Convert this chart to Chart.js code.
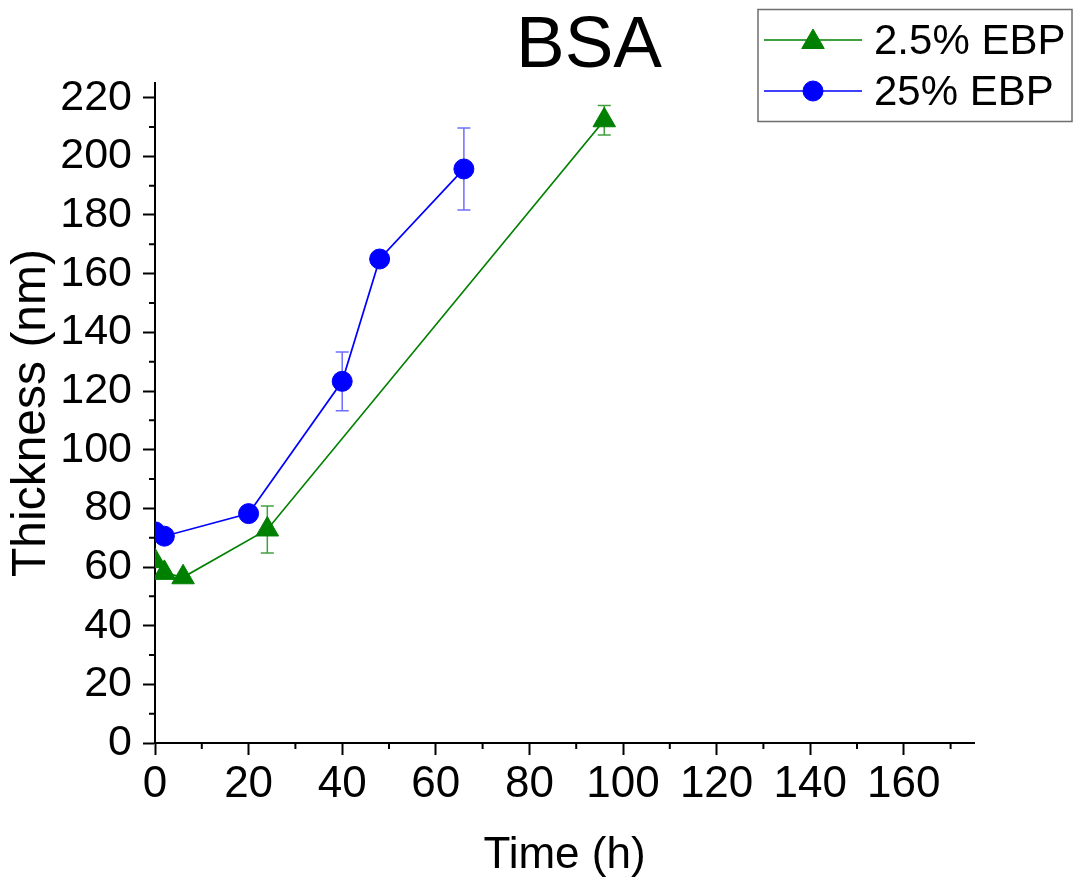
<!DOCTYPE html>
<html><head><meta charset="utf-8">
<script src="https://cdn.jsdelivr.net/npm/chart.js@4.4.1/dist/chart.umd.min.js"></script>
<style>html,body{margin:0;padding:0;background:#fff;overflow:hidden}</style>
</head><body>
<canvas id="c" width="1075" height="877"></canvas>
<script>
const chartTitle = 'BSA';
const xAxisTitle = 'Time (h)';
const yAxisTitle = 'Thickness (nm)';
const seriesLabels = ['2.5% EBP', '25% EBP'];
const timeGreen = [0, 2, 6, 24, 96];
const thickGreen = [62, 58, 56.5, 72.8, 212.3];
const errGreen = [0, 0, 0, 8, 5];
const timeBlue = [0, 2, 20, 40, 48, 66];
const thickBlue = [72, 70.5, 78.2, 123.3, 165, 195.7];
const errBlue = [0, 0, 0, 10, 0, 14];
const xTickValues = [0, 20, 40, 60, 80, 100, 120, 140, 160];
const yTickValues = [0, 20, 40, 60, 80, 100, 120, 140, 160, 180, 200, 220];
const xMinorTicks = [10, 30, 50, 70, 90, 110, 130, 150, 170];
const yMinorTicks = [10, 30, 50, 70, 90, 110, 130, 150, 170, 190, 210];

const FONT = "'Liberation Sans', Arial, sans-serif";
const GREEN = 'rgb(0,128,0)';
const BLUE = 'rgb(0,0,255)';

const toPoints = (xs, ys) => xs.map((x, i) => ({x: x, y: ys[i]}));

const errorBarPlugin = {
  id: 'errorBars',
  beforeDatasetsDraw(chart) {
    const ctx = chart.ctx, xs = chart.scales.x, ys = chart.scales.y;
    chart.data.datasets.forEach((ds) => {
      if (!ds.errorBars) return;
      ctx.save();
      ctx.strokeStyle = ds.errorColor;
      ctx.lineWidth = 1.5;
      ds.data.forEach((p, j) => {
        const e = ds.errorBars[j];
        if (!e) return;
        const px = xs.getPixelForValue(p.x);
        const yt = ys.getPixelForValue(p.y + e);
        const yb = ys.getPixelForValue(p.y - e);
        ctx.beginPath();
        ctx.moveTo(px, yt); ctx.lineTo(px, yb);
        ctx.moveTo(px - 6.5, yt); ctx.lineTo(px + 6.5, yt);
        ctx.moveTo(px - 6.5, yb); ctx.lineTo(px + 6.5, yb);
        ctx.stroke();
      });
      ctx.restore();
    });
  }
};

const minorTickPlugin = {
  id: 'minorTicks',
  afterDraw(chart) {
    const ctx = chart.ctx, xs = chart.scales.x, ys = chart.scales.y, a = chart.chartArea;
    ctx.save();
    ctx.strokeStyle = '#000';
    ctx.lineWidth = 2;
    ctx.beginPath();
    xMinorTicks.forEach(v => { const p = xs.getPixelForValue(v); ctx.moveTo(p, a.bottom); ctx.lineTo(p, a.bottom + 6); });
    yMinorTicks.forEach(v => { const p = ys.getPixelForValue(v); ctx.moveTo(a.left, p); ctx.lineTo(a.left - 6, p); });
    ctx.stroke();
    ctx.restore();
  }
};

const titlePlugin = {
  id: 'bsaTitle',
  afterDraw(chart) {
    const ctx = chart.ctx;
    ctx.save();
    ctx.fillStyle = '#000';
    ctx.font = '73px ' + FONT;
    ctx.textAlign = 'center';
    ctx.textBaseline = 'alphabetic';
    ctx.fillText(chartTitle, 589, 67);
    ctx.restore();
  }
};

const legendPlugin = {
  id: 'boxLegend',
  afterDraw(chart) {
    const ctx = chart.ctx;
    ctx.save();
    ctx.strokeStyle = '#6e6e6e';
    ctx.lineWidth = 1.5;
    ctx.strokeRect(758, 9.5, 314, 112);
    const rows = [40, 91];
    chart.data.datasets.forEach((ds, i) => {
      const cy = rows[i];
      ctx.strokeStyle = ds.borderColor;
      ctx.lineWidth = 1.5;
      ctx.beginPath(); ctx.moveTo(764, cy); ctx.lineTo(862, cy); ctx.stroke();
      ctx.fillStyle = ds.pointBackgroundColor;
      ctx.strokeStyle = ds.pointBorderColor;
      ctx.lineWidth = 1;
      const my = ds.pointStyle === 'triangle' ? cy + 2 : cy;
      Chart.helpers.drawPoint(ctx, {pointStyle: ds.pointStyle, radius: ds.pointRadius, rotation: 0, borderWidth: 1}, 813, my);
      ctx.fillStyle = '#000';
      ctx.font = '42px ' + FONT;
      ctx.textAlign = 'left';
      ctx.textBaseline = 'alphabetic';
      ctx.fillText(ds.label, 874, cy + 14);
    });
    ctx.restore();
  }
};

new Chart(document.getElementById('c'), {
  type: 'line',
  data: {
    datasets: [
      {
        label: seriesLabels[0],
        data: toPoints(timeGreen, thickGreen),
        errorBars: errGreen,
        errorColor: 'rgba(0,128,0,0.75)',
        borderColor: GREEN, backgroundColor: GREEN,
        pointBackgroundColor: GREEN, pointBorderColor: GREEN,
        pointStyle: 'triangle', pointRadius: 13, pointBorderWidth: 1,
        borderWidth: 1.7, tension: 0, clip: 0
      },
      {
        label: seriesLabels[1],
        data: toPoints(timeBlue, thickBlue),
        errorBars: errBlue,
        errorColor: 'rgba(60,60,255,0.75)',
        borderColor: BLUE, backgroundColor: BLUE,
        pointBackgroundColor: BLUE, pointBorderColor: BLUE,
        pointStyle: 'circle', pointRadius: 10, pointBorderWidth: 1,
        borderWidth: 1.7, tension: 0, clip: 0
      }
    ]
  },
  options: {
    responsive: false,
    animation: false,
    devicePixelRatio: 1,
    events: [],
    layout: {padding: {top: 83, right: 101, bottom: 0, left: 0}},
    plugins: {legend: {display: false}, title: {display: false}, tooltip: {enabled: false}},
    scales: {
      x: {
        type: 'linear', min: 0, max: 175,
        border: {display: true, color: '#000', width: 2},
        grid: {display: true, drawOnChartArea: false, drawTicks: true, tickLength: 12, tickWidth: 2, tickColor: '#000'},
        ticks: {color: '#000', font: {family: FONT, size: 44}, padding: 3, maxRotation: 0, autoSkip: false},
        title: {display: true, text: xAxisTitle, color: '#000', font: {family: FONT, size: 44}, padding: {top: 0, bottom: -5}},
        afterBuildTicks: (s) => { s.ticks = xTickValues.map(v => ({value: v})); },
        afterFit: (s) => { s.height = 134; s.paddingLeft = 0; s.paddingRight = 0; }
      },
      y: {
        type: 'linear', min: 0, max: 225,
        border: {display: true, color: '#000', width: 2},
        grid: {display: true, drawOnChartArea: false, drawTicks: true, tickLength: 12, tickWidth: 2, tickColor: '#000'},
        ticks: {color: '#000', font: {family: FONT, size: 43}, padding: 11, autoSkip: false},
        title: {display: true, text: yAxisTitle, color: '#000', font: {family: FONT, size: 48}, padding: {top: 3, bottom: 0}},
        afterBuildTicks: (s) => { s.ticks = yTickValues.map(v => ({value: v})); },
        afterFit: (s) => { s.width = 155; s.paddingTop = 0; s.paddingBottom = 0; }
      }
    }
  },
  plugins: [errorBarPlugin, minorTickPlugin, titlePlugin, legendPlugin]
});
</script>
</body></html>
